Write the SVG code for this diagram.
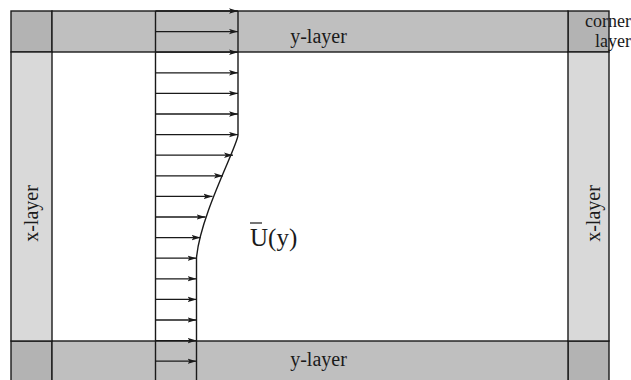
<svg xmlns="http://www.w3.org/2000/svg" width="631" height="380" viewBox="0 0 631 380">
<style>
.b{stroke:#1a1a1a;stroke-width:1.4}
.corner{fill:#b3b3b3}
.band{fill:#bfbfbf}
.col{fill:#d9d9d9}
text{font-family:"Liberation Serif","Times New Roman","DejaVu Serif",serif;fill:#1a1a1a}
.arr line{stroke:#1a1a1a;stroke-width:1.3;marker-end:url(#ah)}
</style>
<defs>
<marker id="ah" markerUnits="userSpaceOnUse" markerWidth="10" markerHeight="6" refX="9" refY="3" orient="auto">
<path d="M0,0.3 L9,3 L0,5.7 L2,3 z" fill="#1a1a1a"/>
</marker>
</defs>
<rect x="0" y="0" width="631" height="380" fill="#fff"/>
<g id="corner-tl"><rect class="corner b" x="11" y="11" width="41" height="41"/></g>
<g id="corner-tr"><rect class="corner b" x="568" y="11" width="41" height="41"/></g>
<g id="corner-bl"><rect class="corner b" x="11" y="341" width="41" height="45"/></g>
<g id="corner-br"><rect class="corner b" x="568" y="341" width="41" height="45"/></g>
<g id="y-layer-top"><rect class="band b" x="52" y="11" width="516" height="41"/>
<text x="318.5" y="43" font-size="20" text-anchor="middle" font-family="Liberation Serif, serif">y-layer</text></g>
<g id="y-layer-bottom"><rect class="band b" x="52" y="341" width="516" height="45"/>
<text x="318.5" y="366" font-size="20" text-anchor="middle" font-family="Liberation Serif, serif">y-layer</text></g>
<g id="x-layer-left"><rect class="col b" x="11" y="52" width="41" height="289"/>
<text x="0" y="0" font-size="20" text-anchor="middle" font-family="Liberation Serif, serif" transform="translate(38,213.5) rotate(-90)">x-layer</text></g>
<g id="x-layer-right"><rect class="col b" x="568" y="52" width="41" height="289"/>
<text x="0" y="0" font-size="20" text-anchor="middle" font-family="Liberation Serif, serif" transform="translate(600,213.5) rotate(-90)">x-layer</text></g>
<g id="corner-label"><text font-size="18" text-anchor="end" font-family="Liberation Serif, serif"><tspan x="631" y="27">corner</tspan><tspan x="631" y="47">layer</tspan></text></g>
<g id="profile">
<line class="b" x1="155.5" y1="11" x2="155.5" y2="380"/>
<path class="b" fill="none" d="M238,11 L238,135 C238,145 200,215 196.5,258 L196.5,380"/>
<text x="250" y="246" font-size="25" font-family="Liberation Serif, serif">U(y)</text>
<line x1="250" y1="223" x2="262" y2="223" stroke="#1a1a1a" stroke-width="1.2"/>
</g>
<g id="connectors" class="arr">
<line x1="155.5" y1="11" x2="238" y2="11"/>
<line x1="155.5" y1="31.6" x2="238" y2="31.6"/>
<line x1="155.5" y1="52.2" x2="238" y2="52.2"/>
<line x1="155.5" y1="72.8" x2="238" y2="72.8"/>
<line x1="155.5" y1="93.4" x2="238" y2="93.4"/>
<line x1="155.5" y1="114" x2="238" y2="114"/>
<line x1="155.5" y1="134.6" x2="238" y2="134.6"/>
<line x1="155.5" y1="155.2" x2="233" y2="155.2"/>
<line x1="155.5" y1="175.8" x2="223" y2="175.8"/>
<line x1="155.5" y1="196.4" x2="212.5" y2="196.4"/>
<line x1="155.5" y1="217" x2="205.5" y2="217"/>
<line x1="155.5" y1="237.6" x2="200.5" y2="237.6"/>
<line x1="155.5" y1="258.2" x2="196.5" y2="258.2"/>
<line x1="155.5" y1="278.8" x2="196.5" y2="278.8"/>
<line x1="155.5" y1="299.4" x2="196.5" y2="299.4"/>
<line x1="155.5" y1="320" x2="196.5" y2="320"/>
<line x1="155.5" y1="340.6" x2="196.5" y2="340.6"/>
<line x1="155.5" y1="361.2" x2="196.5" y2="361.2"/>
</g>
</svg>
